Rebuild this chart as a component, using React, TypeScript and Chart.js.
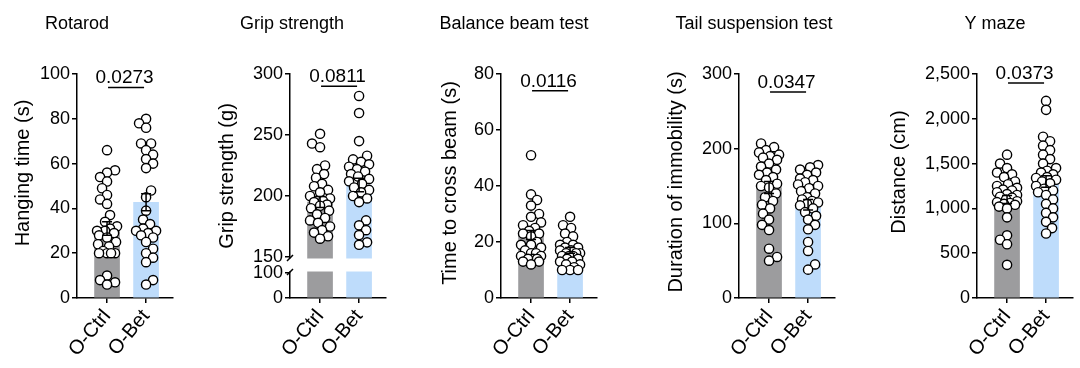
import React, { useEffect, useRef } from 'react';
import { Chart, registerables, LinearScale } from 'chart.js';

Chart.register(...registerables);

// ---------------- DATA ----------------
const GROUPS = ['O-Ctrl', 'O-Bet'];
const PANEL_TITLES = ['Rotarod', 'Grip strength', 'Balance beam test', 'Tail suspension test', 'Y maze'];
const Y_TITLES = ['Hanging time (s)', 'Grip strength (g)', 'Time to cross beam (s)', 'Duration of immobility (s)', 'Distance (cm)'];
const P_VALUES = ['0.0273', '0.0811', '0.0116', '0.0347', '0.0373'];
const Y_MAX = [100, 300, 80, 300, 2500];
const Y_TICKS = [
  [0, 20, 40, 60, 80, 100],
  [0, 100, 150, 200, 250, 300],
  [0, 20, 40, 60, 80],
  [0, 100, 200, 300],
  [0, 500, 1000, 1500, 2000, 2500],
];
const BRACKET_Y = [94, 290, 74, 276, 2400];

const rotarodCtrl = [66, 57, 56, 54, 52, 49, 46, 44, 42, 37, 34, 32, 31, 30, 30, 29, 28, 27, 25, 24, 23, 21, 20, 20, 20, 20, 10, 8, 7, 6];
const rotarodBet = [80, 78, 76, 69, 69, 66, 64, 62, 60, 58, 48, 45, 39, 35, 33, 31, 30, 30, 29, 28, 27, 25, 22, 20, 18, 16, 8, 6];
const rotarodMean = [31, 42.7];
const rotarodSem = [3.0, 3.8];

const gripCtrl = [251, 243, 240, 225, 222, 218, 215, 210, 208, 205, 203, 200, 198, 196, 195, 193, 192, 190, 188, 185, 182, 180, 178, 175, 172, 170, 167, 165];
const gripBet = [282, 268, 245, 233, 230, 228, 226, 224, 222, 220, 218, 216, 214, 212, 210, 207, 205, 203, 200, 198, 195, 180, 176, 172, 168, 162, 160];
const gripMean = [195, 209];
const gripSem = [4.5, 5.5];

const beamCtrl = [51, 37, 35, 33, 30, 29, 27, 26, 25, 24, 23, 23, 22, 20, 19, 19, 18, 17, 16, 16, 15, 15, 14, 14, 14, 13, 13, 12];
const beamBet = [29, 26, 25, 23, 22, 20, 19, 19, 18, 18, 17, 17, 16, 16, 16, 15, 15, 15, 14, 14, 13, 13, 12, 12, 11, 10, 10, 10];
const beamMean = [22.5, 17];
const beamSem = [1.6, 1.0];

const tailCtrl = [207, 202, 198, 195, 192, 190, 188, 185, 180, 176, 172, 168, 165, 162, 158, 153, 150, 148, 140, 135, 130, 125, 120, 113, 105, 98, 91, 66, 55, 50];
const tailBet = [178, 175, 172, 168, 165, 160, 158, 155, 152, 150, 147, 143, 140, 135, 132, 130, 128, 126, 124, 120, 115, 110, 105, 98, 92, 75, 63, 45, 38];
const tailMean = [148, 125];
const tailSem = [8, 7];

const ymazeCtrl = [1600, 1500, 1450, 1400, 1380, 1350, 1300, 1270, 1250, 1230, 1210, 1200, 1180, 1160, 1150, 1130, 1120, 1100, 1080, 1070, 1060, 1050, 1040, 1020, 1000, 900, 700, 650, 600, 370];
const ymazeBet = [2200, 2100, 1800, 1750, 1700, 1650, 1600, 1550, 1500, 1450, 1420, 1400, 1380, 1350, 1340, 1320, 1300, 1280, 1250, 1220, 1200, 1180, 1150, 1100, 1050, 1000, 950, 900, 850, 780, 720];
const ymazeMean = [1100, 1300];
const ymazeSem = [45, 65];

const CTRL_VALUES = [rotarodCtrl, gripCtrl, beamCtrl, tailCtrl, ymazeCtrl];
const BET_VALUES = [rotarodBet, gripBet, beamBet, tailBet, ymazeBet];
const MEANS = [rotarodMean, gripMean, beamMean, tailMean, ymazeMean];
const SEMS = [rotarodSem, gripSem, beamSem, tailSem, ymazeSem];

// axis break for the grip strength panel (values)
const BREAK_LOW = 100;
const BREAK_HIGH = 150;

// ---------------- STYLE / LAYOUT ----------------
const FONT = "'Liberation Sans', Arial, Helvetica, sans-serif";
const BAR_COLORS = ['#9c9c9e', '#bedcfb'];
const LAYOUT = [
  { axisX: 77, titleX: 77, yTitleDX: 53.5, yTitleY: 173 },
  { axisX: 290, titleX: 292, yTitleDX: 63, yTitleY: 176 },
  { axisX: 501, titleX: 514, yTitleDX: 51, yTitleY: 183 },
  { axisX: 739, titleX: 754, yTitleDX: 63, yTitleY: 182 },
  { axisX: 977, titleX: 995, yTitleDX: 78, yTitleY: 172 },
];
const AREA_LEFT = 90; // chart-area left inside each canvas
const AREA_W = 96;
const Y_AXIS_W = 70;
const X_AXIS_H = 60;
const AREA_TOP = 74;
const AREA_BOTTOM = 298;
const H = 368;
const LOW_FRAC = 25 / 224;
const GAP_FRAC = 16 / 224;

class BrokenLinearScale extends LinearScale {
  static id = 'brokenLinear';
  static defaults = (LinearScale as any).defaults;
  _dec(v: number) {
    const max = (this as any).max;
    if (v <= BREAK_LOW) return (v / BREAK_LOW) * LOW_FRAC;
    if (v < BREAK_HIGH) return LOW_FRAC + ((v - BREAK_LOW) / (BREAK_HIGH - BREAK_LOW)) * GAP_FRAC;
    return LOW_FRAC + GAP_FRAC + ((v - BREAK_HIGH) / (max - BREAK_HIGH)) * (1 - LOW_FRAC - GAP_FRAC);
  }
  getPixelForValue(v: any) {
    if (v === null || v === undefined) return NaN;
    return (this as any).getPixelForDecimal(this._dec(+v));
  }
  getValueForPixel(p: number) {
    const d = (this as any).getDecimalForPixel(p);
    const max = (this as any).max;
    if (d <= LOW_FRAC) return (d / LOW_FRAC) * BREAK_LOW;
    if (d < LOW_FRAC + GAP_FRAC) return BREAK_LOW + ((d - LOW_FRAC) / GAP_FRAC) * (BREAK_HIGH - BREAK_LOW);
    return BREAK_HIGH + ((d - LOW_FRAC - GAP_FRAC) / (1 - LOW_FRAC - GAP_FRAC)) * (max - BREAK_HIGH);
  }
}
Chart.register(BrokenLinearScale as any);

Chart.defaults.font.family = FONT;
Chart.defaults.font.size = 18;
Chart.defaults.color = '#000';

function swarm(pys: number[], minDist: number, maxHalf: number, step: number): number[] {
  const idx = pys.map((_, i) => i).sort((a, b) => pys[b] - pys[a]);
  const placed: [number, number][] = [];
  const out = new Array(pys.length).fill(0);
  idx.forEach((i, n) => {
    const py = pys[i];
    let best = 0;
    let bestScore = -1;
    let done = false;
    for (let k = 0; k <= maxHalf / step && !done; k++) {
      const signs = k === 0 ? [1] : n % 2 ? [1, -1] : [-1, 1];
      for (const s of signs) {
        const dx = s * k * step;
        let md = Infinity;
        for (const [qx, qy] of placed) {
          const d = Math.hypot(dx - qx, py - qy);
          if (d < md) md = d;
        }
        if (md >= minDist) { best = dx; done = true; break; }
        if (md > bestScore) { bestScore = md; best = dx; }
      }
    }
    out[i] = best;
    placed.push([best, py]);
  });
  return out;
}

function makeDeco(i: number) {
  const lay = LAYOUT[i];
  const canvasLeft = lay.axisX - AREA_LEFT;
  return {
    id: 'deco' + i,
    afterDatasetsDraw(chart: any) {
      const { ctx, chartArea: ca } = chart;
      const x = chart.scales.x;
      const y = chart.scales.y;
      ctx.save();
      ctx.strokeStyle = '#000';
      ctx.lineWidth = 1.5;
      if (i === 1) {
        const yHi = y.getPixelForValue(BREAK_HIGH);
        const yLo = y.getPixelForValue(BREAK_LOW);
        ctx.fillStyle = '#fff';
        ctx.fillRect(ca.left - 3, yHi + 1.5, ca.right - ca.left + 6, yLo - yHi - 3);
        ctx.beginPath();
        ctx.moveTo(ca.left - 3, yHi + 4);
        ctx.lineTo(ca.left + 3, yHi - 2);
        ctx.moveTo(ca.left - 3, yLo + 2);
        ctx.lineTo(ca.left + 3, yLo - 4);
        ctx.stroke();
      }
      // error bars
      MEANS[i].forEach((m, g) => {
        const px = x.getPixelForValue(g);
        const top = y.getPixelForValue(m + SEMS[i][g]);
        const bot = y.getPixelForValue(m - SEMS[i][g]);
        ctx.beginPath();
        ctx.moveTo(px, top);
        ctx.lineTo(px, bot);
        ctx.moveTo(px - 5, top);
        ctx.lineTo(px + 5, top);
        ctx.moveTo(px - 5, bot);
        ctx.lineTo(px + 5, bot);
        ctx.stroke();
      });
      // significance bracket
      const by = y.getPixelForValue(BRACKET_Y[i]);
      const x0 = x.getPixelForValue(0);
      const x1 = x.getPixelForValue(1);
      ctx.beginPath();
      ctx.moveTo(x0 + 1, by);
      ctx.lineTo(x1 - 2, by);
      ctx.stroke();
      ctx.fillStyle = '#000';
      ctx.font = '19px ' + FONT;
      ctx.textAlign = 'center';
      ctx.textBaseline = 'alphabetic';
      ctx.fillText(P_VALUES[i], (x0 + x1) / 2 - 2, by - 4);
      ctx.restore();
    },
    afterDraw(chart: any) {
      const { ctx } = chart;
      ctx.save();
      ctx.fillStyle = '#000';
      ctx.font = '18px ' + FONT;
      ctx.textAlign = 'center';
      ctx.textBaseline = 'middle';
      ctx.fillText(PANEL_TITLES[i], lay.titleX - canvasLeft, 24);
      ctx.translate(AREA_LEFT - lay.yTitleDX, lay.yTitleY);
      ctx.rotate(-Math.PI / 2);
      ctx.font = '20px ' + FONT;
      ctx.fillText(Y_TITLES[i], 0, 0);
      ctx.restore();
    },
  };
}

function Panel({ i }: { i: number }) {
  const ref = useRef<HTMLCanvasElement>(null);
  const lay = LAYOUT[i];
  const left = lay.axisX - AREA_LEFT;
  const width = Math.min(210, 1080 - left);
  useEffect(() => {
    const pointStyle = {
      type: 'scatter' as const,
      order: 0,
      pointRadius: 4.6,
      pointHoverRadius: 4.6,
      pointBackgroundColor: '#ffffff',
      pointBorderColor: '#000000',
      pointBorderWidth: 1.4,
      showLine: false,
    };
    const chart = new Chart(ref.current!, {
      type: 'bar',
      data: {
        datasets: [
          { ...pointStyle, data: CTRL_VALUES[i].map((v) => ({ x: 0, y: v })) },
          { ...pointStyle, data: BET_VALUES[i].map((v) => ({ x: 1, y: v })) },
          {
            type: 'bar',
            order: 2,
            data: MEANS[i].map((m, g) => ({ x: g, y: m })),
            backgroundColor: BAR_COLORS,
            borderWidth: 0,
            barThickness: 25,
          },
        ],
      } as any,
      options: {
        animation: false,
        responsive: false,
        devicePixelRatio: 1,
        events: [],
        layout: {
          padding: {
            top: AREA_TOP,
            bottom: H - AREA_BOTTOM - X_AXIS_H,
            left: AREA_LEFT - Y_AXIS_W,
            right: width - AREA_LEFT - AREA_W,
          },
        },
        plugins: { legend: { display: false }, tooltip: { enabled: false }, title: { display: false } },
        scales: {
          x: {
            type: 'linear',
            offset: false,
            min: -0.77,
            max: 1.69,
            afterBuildTicks: (s: any) => { s.ticks = GROUPS.map((_, g) => ({ value: g })); },
            afterFit: (s: any) => { s.height = X_AXIS_H; s.paddingLeft = 0; s.paddingRight = 0; },
            ticks: {
              callback: (v: any) => GROUPS[v],
              minRotation: 50,
              maxRotation: 50,
              autoSkip: false,
              padding: 2,
              color: '#000',
              font: { size: 20, family: FONT },
            },
            grid: { offset: false, drawOnChartArea: false, drawTicks: true, tickLength: 5, color: '#000', lineWidth: 1.5 },
            border: { color: '#000', width: 1.5 },
          },
          y: {
            type: i === 1 ? 'brokenLinear' : 'linear',
            min: 0,
            max: Y_MAX[i],
            afterBuildTicks: (s: any) => { s.ticks = Y_TICKS[i].map((v) => ({ value: v })); },
            afterFit: (s: any) => { s.width = Y_AXIS_W; s.paddingTop = 0; s.paddingBottom = 0; },
            ticks: {
              autoSkip: false,
              padding: 2,
              color: '#000',
              font: { size: 18, family: FONT },
              callback: (v: any) => Number(v).toLocaleString('en-US'),
            },
            grid: { drawOnChartArea: false, drawTicks: true, tickLength: 5, color: '#000', lineWidth: 1.5 },
            border: { color: '#000', width: 1.5 },
          },
        } as any,
      },
      plugins: [makeDeco(i)],
    } as any);

    // spread the dots horizontally around each bar (layout only)
    const xs: any = chart.scales.x;
    const ys: any = chart.scales.y;
    [CTRL_VALUES[i], BET_VALUES[i]].forEach((vals, g) => {
      const cx = xs.getPixelForValue(g);
      const pys = vals.map((v) => ys.getPixelForValue(v));
      const offs = swarm(pys, 8, 10, 1);
      (chart.data.datasets[g] as any).data = vals.map((v, k) => ({ x: xs.getValueForPixel(cx + offs[k]), y: v }));
    });
    chart.update('none');
    return () => chart.destroy();
  }, [i]);
  return (
    <canvas
      ref={ref}
      width={width}
      height={H}
      style={{ position: 'absolute', left, top: 0, width, height: H }}
    />
  );
}

export default function App() {
  return (
    <div style={{ position: 'fixed', left: 0, top: 0, width: 1080, height: H, background: '#fff', overflow: 'hidden' }}>
      {LAYOUT.map((_, i) => (
        <Panel key={i} i={i} />
      ))}
    </div>
  );
}
